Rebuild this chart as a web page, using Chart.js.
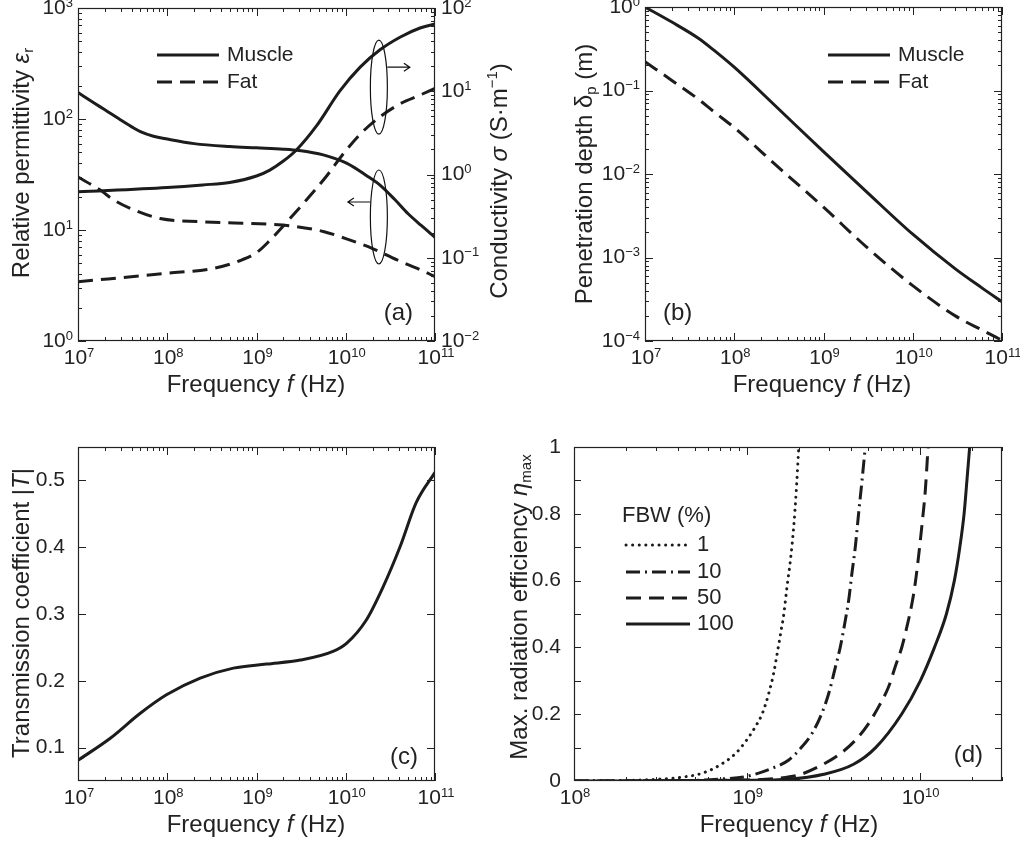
<!DOCTYPE html>
<html>
<head>
<meta charset="utf-8">
<script src="https://cdn.jsdelivr.net/npm/chart.js@4.4.1/dist/chart.umd.min.js"></script>
<style>
  body { margin: 0; background: #fff; }
  #wrap { position: relative; width: 1020px; height: 847px; }
  #wrap canvas { position: absolute; left: 0; top: 0; }
</style>
</head>
<body>
<div id="wrap">
  <canvas id="chartA" width="1020" height="847"></canvas>
  <canvas id="chartB" width="1020" height="847"></canvas>
  <canvas id="chartC" width="1020" height="847"></canvas>
  <canvas id="chartD" width="1020" height="847"></canvas>
</div>
<script>
// ---- (a) relative permittivity / conductivity ----
const muscleEpsF = [1e7, 1.5e7, 2e7, 3e7, 4e7, 5e7, 7e7, 1e8, 2e8, 5e8, 1.0e9, 2.0e9, 3.0e9, 5.6e9, 1.02e10, 1.7e10, 2.4e10, 3.5e10, 5.0e10, 7.0e10, 1e11];
const muscleEps  = [173, 140, 121, 98, 85, 77, 70, 66, 60, 56.5, 55, 53.5, 52, 47.5, 40, 31, 25.5, 19, 14, 11, 8.6];
const muscleSigF = [1e7, 1e8, 2.5e8, 5e8, 1.0e9, 1.41e9, 2.0e9, 2.8e9, 4.7e9, 8.6e9, 1.45e10, 2.4e10, 4.1e10, 6.8e10, 1e11];
const muscleSig  = [0.62, 0.70, 0.75, 0.80, 0.96, 1.13, 1.45, 1.97, 3.83, 10.1, 19.5, 31.3, 44.9, 57.5, 64.3];
const fatEpsF = [1e7, 1.76e7, 2.5e7, 4.2e7, 8.3e7, 2.34e8, 1.3e9, 2.4e9, 5.6e9, 1.12e10, 2.0e10, 3.7e10, 6.8e10, 1e11];
const fatEps  = [30, 23, 18.7, 15.2, 12.7, 11.9, 11.3, 10.9, 9.7, 8.1, 6.8, 5.4, 4.4, 3.8];
const fatSigF = [1e7, 9.8e7, 3.3e8, 6.5e8, 1.0e9, 1.4e9, 2.4e9, 3.6e9, 6.2e9, 9.3e9, 1.45e10, 2.4e10, 4.1e10, 6.8e10, 1e11];
const fatSig  = [0.0515, 0.065, 0.0746, 0.092, 0.115, 0.160, 0.30, 0.49, 0.98, 1.75, 3.05, 4.9, 7.1, 9.0, 10.8];

// ---- (b) penetration depth (m) ----
const depthF      = [1e7, 2e7, 4e7, 6e7, 1e8, 3e8, 1e9, 3e9, 1e10, 3e10, 6e10, 1e11];
const muscleDepth = [1.0, 0.66, 0.42, 0.30, 0.19, 0.063, 0.0185, 0.0062, 0.0019, 7.3e-4, 4.3e-4, 2.95e-4];
const fatDepth    = [0.221, 0.132, 0.078, 0.055, 0.036, 0.0125, 0.0040, 0.00135, 4.6e-4, 2.0e-4, 1.35e-4, 1.02e-4];

// ---- (c) transmission coefficient ----
const transF = [1e7, 2.3e7, 4.95e7, 9.8e7, 2.34e8, 5.5e8, 1.29e9, 3.1e9, 7.2e9, 1.02e10, 1.7e10, 2.63e10, 4.07e10, 6.17e10, 1e11];
const transT = [0.081, 0.114, 0.151, 0.179, 0.204, 0.219, 0.225, 0.231, 0.244, 0.256, 0.291, 0.341, 0.401, 0.467, 0.512];

// ---- (d) max. radiation efficiency, FBW (%) ----
const fbwLabels = ['1', '10', '50', '100'];
const eff1F   = [1e8, 2e8, 3.2e8, 4e8, 5.5e8, 7.0e8, 8.6e8, 1.0e9, 1.12e9, 1.23e9, 1.34e9, 1.43e9, 1.50e9, 1.57e9, 1.64e9, 1.71e9, 1.79e9, 1.87e9, 1.93e9, 2.0e9];
const eff1    = [0, 0.002, 0.006, 0.01, 0.023, 0.048, 0.082, 0.123, 0.162, 0.202, 0.262, 0.322, 0.382, 0.442, 0.502, 0.582, 0.662, 0.762, 0.862, 1.0];
const eff10F  = [1e8, 5e8, 7e8, 9.8e8, 1.4e9, 1.75e9, 2.09e9, 2.39e9, 2.72e9, 2.98e9, 3.26e9, 3.48e9, 3.72e9, 3.89e9, 4.06e9, 4.25e9, 4.44e9, 4.65e9, 4.85e9];
const eff10   = [0, 0.002, 0.006, 0.013, 0.038, 0.063, 0.103, 0.143, 0.203, 0.262, 0.342, 0.402, 0.482, 0.542, 0.622, 0.702, 0.802, 0.902, 1.0];
const eff50F  = [1e8, 1e9, 1.5e9, 2.0e9, 2.72e9, 3.4e9, 4.25e9, 5.07e9, 5.79e9, 6.62e9, 7.23e9, 7.91e9, 8.45e9, 9.04e9, 9.44e9, 9.86e9, 1.03e10, 1.08e10, 1.12e10];
const eff50   = [0, 0.003, 0.008, 0.018, 0.048, 0.078, 0.122, 0.172, 0.222, 0.282, 0.342, 0.402, 0.462, 0.532, 0.592, 0.671, 0.761, 0.871, 1.0];
const eff100F = [1e8, 1e9, 1.74e9, 2.79e9, 4.15e9, 5.57e9, 7.87e9, 1.01e10, 1.22e10, 1.43e10, 1.59e10, 1.71e10, 1.81e10, 1.88e10, 1.95e10];
const eff100  = [0, 0.002, 0.005, 0.02, 0.05, 0.1, 0.2, 0.3, 0.4, 0.5, 0.6, 0.7, 0.8, 0.9, 1.0];

const decadesA = [1e7, 1e8, 1e9, 1e10, 1e11];
const epsTicks = [1, 10, 100, 1000];
const sigTicks = [0.01, 0.1, 1, 10, 100];
const depthTicks = [1e-4, 1e-3, 1e-2, 1e-1, 1];
const transTicks = [0.1, 0.2, 0.3, 0.4, 0.5];
const decadesD = [1e8, 1e9, 1e10];
const effTicks = [0, 0.2, 0.4, 0.6, 0.8, 1];

const INK = '#222';
const LINE = '#1c1c1c';
const FONT = "'Liberation Sans', Arial, Helvetica, sans-serif";
Chart.defaults.font.family = FONT;
Chart.defaults.font.size = 21;
Chart.defaults.color = INK;
Chart.defaults.animation = false;
Chart.defaults.events = [];
Chart.defaults.plugins.legend.display = false;
Chart.defaults.plugins.tooltip.enabled = false;

const SOLID = [], DASH = [15, 8], DOT = [0.1, 6.5], DASHDOT = [14, 5, 2, 5];

const pts = (xs, ys) => xs.map((x, i) => ({ x: x, y: ys[i] }));
function line(data, dash, axis) {
  return {
    data: data, yAxisID: axis || 'y', borderColor: LINE, borderWidth: 3, borderDash: dash,
    borderCapStyle: dash === DOT ? 'round' : 'butt', pointRadius: 0, fill: false,
    cubicInterpolationMode: 'monotone'
  };
}

// plot boxes (page pixels)
const boxA = { left: 78, top: 8, right: 435, bottom: 341 };
const boxB = { left: 645, top: 7, right: 1002, bottom: 341 };
const boxC = { left: 78, top: 447, right: 435, bottom: 781 };
const boxD = { left: 574, top: 447, right: 1002, bottom: 781 };

// log axes: labels are drawn as 10 + raised exponent by the decor plugin
function xAxis(box, min, max, majors) {
  return {
    type: 'logarithmic', min: min, max: max,
    afterBuildTicks: s => { s.ticks = majors.map(v => ({ value: v })); },
    ticks: { display: false },
    grid: { display: false }, border: { display: false },
    afterFit: s => { s.height = 847 - box.bottom; s.paddingLeft = 0; s.paddingRight = 0; }
  };
}
function yAxis(type, pos, width, min, max, majors, fmt) {
  return {
    type: type, position: pos, min: min, max: max,
    afterBuildTicks: s => { s.ticks = majors.map(v => ({ value: v })); },
    ticks: fmt ? { callback: fmt, autoSkip: false, padding: 5 } : { display: false },
    grid: { display: false }, border: { display: false },
    afterFit: s => { s.width = width; s.paddingTop = 0; s.paddingBottom = 0; }
  };
}

function logMarks(min, max) {
  const out = [];
  for (let e = Math.floor(Math.log10(min)); e <= Math.ceil(Math.log10(max)); e++) {
    for (let k = 1; k < 10; k++) {
      const v = k * Math.pow(10, e);
      if (v >= min * 0.999 && v <= max * 1.001) out.push([v, k === 1 ? 8 : 4]);
    }
  }
  return out;
}

// rich text: parts = [[text, kind]], kind n | i | sub | sup
function rich(ctx, parts, x, y, size, rot, align, small, lift) {
  const sm = small || 0.62, up = lift || 0.3;
  const fontOf = k => (k === 'i' ? 'italic ' : '') + ((k === 'sub' || k === 'sup') ? Math.round(size * sm) : size) + 'px ' + FONT;
  ctx.save();
  ctx.translate(x, y);
  if (rot) ctx.rotate(rot);
  let total = 0;
  const widths = parts.map(p => { ctx.font = fontOf(p[1]); const w = ctx.measureText(p[0]).width; total += w; return w; });
  let cx = align === 'right' ? -total : align === 'left' ? 0 : -total / 2;
  ctx.textBaseline = 'middle';
  ctx.textAlign = 'left';
  ctx.fillStyle = INK;
  parts.forEach((p, i) => {
    ctx.font = fontOf(p[1]);
    const dy = p[1] === 'sub' ? size * 0.3 : p[1] === 'sup' ? -size * up : 0;
    ctx.fillText(p[0], cx, dy);
    cx += widths[i];
  });
  ctx.restore();
}
const powParts = v => [['10', 'n'], [String(Math.round(Math.log10(v))).replace('-', '−'), 'sup']];

// frame, inward tick marks, power-of-ten labels, titles, legend, panel letter
function decor(cfg) {
  return {
    id: 'decor',
    afterDatasetsDraw(chart) {
      const ctx = chart.ctx, a = chart.chartArea;
      ctx.save();
      ctx.strokeStyle = INK;
      ctx.lineWidth = 1;
      cfg.marks.forEach(m => {
        const s = chart.scales[m.id];
        m.values.forEach(([v, len]) => {
          const p = Math.round(s.getPixelForValue(v)) + 0.5;
          ctx.beginPath();
          m.sides.forEach(side => {
            if (side === 'bottom') { ctx.moveTo(p, a.bottom); ctx.lineTo(p, a.bottom - len); }
            if (side === 'top') { ctx.moveTo(p, a.top); ctx.lineTo(p, a.top + len); }
            if (side === 'left') { ctx.moveTo(a.left, p); ctx.lineTo(a.left + len, p); }
            if (side === 'right') { ctx.moveTo(a.right, p); ctx.lineTo(a.right - len, p); }
          });
          ctx.stroke();
        });
      });
      ctx.lineWidth = 1.2;
      ctx.strokeRect(a.left + 0.5, a.top + 0.5, a.right - a.left - 1, a.bottom - a.top - 1);

      (cfg.powLabels || []).forEach(id => {
        const s = chart.scales[id];
        s.ticks.forEach(t => {
          const p = s.getPixelForValue(t.value);
          const parts = powParts(t.value);
          if (s.isHorizontal()) rich(ctx, parts, p + 1, a.bottom + 17, 21, 0, 'center', 0.62, 0.23);
          else if (s.position === 'left') rich(ctx, parts, a.left - 5, p, 21, 0, 'right', 0.62, 0.23);
          else rich(ctx, parts, a.right + 6, p, 21, 0, 'left', 0.62, 0.23);
        });
      });

      cfg.titles.forEach(t => rich(ctx, t.parts, t.x, t.y, 24, t.rot ? -Math.PI / 2 : 0));

      if (cfg.legend) {
        const L = cfg.legend;
        ctx.font = L.size + 'px ' + FONT;
        ctx.textBaseline = 'middle';
        ctx.textAlign = 'left';
        ctx.fillStyle = INK;
        if (L.head) ctx.fillText(L.head, a.left + L.headX, a.top + L.headY);
        L.items.forEach((it, i) => {
          const ds = chart.data.datasets[it.ds];
          const y = a.top + L.ys[i];
          ctx.save();
          ctx.strokeStyle = LINE;
          ctx.lineWidth = 3;
          ctx.lineCap = ds.borderCapStyle;
          ctx.setLineDash(ds.borderDash);
          ctx.beginPath();
          ctx.moveTo(a.left + L.x0, y);
          ctx.lineTo(a.left + L.x1, y);
          ctx.stroke();
          ctx.restore();
          ctx.fillText(it.text, a.left + L.tx, y);
        });
      }

      ctx.font = '24px ' + FONT;
      ctx.textBaseline = 'middle';
      ctx.fillStyle = INK;
      ctx.textAlign = cfg.tag.align;
      ctx.fillText(cfg.tag.text, cfg.tag.align === 'right' ? a.right - cfg.tag.dx : a.left + cfg.tag.dx, a.bottom - cfg.tag.dy);

      if (cfg.extra) cfg.extra(chart, ctx);
      ctx.restore();
    }
  };
}

const freqTitle = (x, y) => ({ parts: [['Frequency ', 'n'], ['f', 'i'], [' (Hz)', 'n']], x: x, y: y });

function arrow(ctx, x0, y, x1) {
  const d = x1 > x0 ? -6 : 6;
  ctx.beginPath();
  ctx.moveTo(x0, y); ctx.lineTo(x1, y);
  ctx.moveTo(x1 + d, y - 4); ctx.lineTo(x1, y); ctx.lineTo(x1 + d, y + 4);
  ctx.stroke();
}

// ---------- (a) ----------
new Chart(document.getElementById('chartA'), {
  type: 'line',
  data: {
    datasets: [
      line(pts(muscleEpsF, muscleEps), SOLID, 'y'),
      line(pts(fatEpsF, fatEps), DASH, 'y'),
      line(pts(muscleSigF, muscleSig), SOLID, 'y2'),
      line(pts(fatSigF, fatSig), DASH, 'y2')
    ]
  },
  options: {
    responsive: false,
    layout: { padding: { left: 0, top: boxA.top, right: 1020 - boxA.right - 60, bottom: 0 } },
    scales: {
      x: xAxis(boxA, 1e7, 1e11, decadesA),
      y: yAxis('logarithmic', 'left', boxA.left, 1, 1000, epsTicks),
      y2: yAxis('logarithmic', 'right', 60, 0.01, 100, sigTicks)
    }
  },
  plugins: [decor({
    marks: [
      { id: 'x', values: logMarks(1e7, 1e11), sides: ['bottom', 'top'] },
      { id: 'y', values: logMarks(1, 1000), sides: ['left'] },
      { id: 'y2', values: logMarks(0.01, 100), sides: ['right'] }
    ],
    powLabels: ['x', 'y', 'y2'],
    titles: [
      { parts: [['Relative permittivity ', 'n'], ['ε', 'i'], ['r', 'sub']], x: 22, y: 163, rot: true },
      { parts: [['Conductivity ', 'n'], ['σ', 'i'], [' (S·m', 'n'], ['−1', 'sup'], [')', 'n']], x: 500, y: 181, rot: true },
      freqTitle(256, 385)
    ],
    legend: { size: 21, x0: 79, x1: 141, tx: 149, ys: [47, 74], items: [{ ds: 0, text: 'Muscle' }, { ds: 1, text: 'Fat' }] },
    tag: { text: '(a)', align: 'right', dx: 22, dy: 28 },
    extra: (chart, ctx) => {
      const xs = chart.scales.x, y1 = chart.scales.y, y2 = chart.scales.y2;
      const cx = xs.getPixelForValue(2.35e10);
      const cyU = y2.getPixelForValue(11.2), cyL = y1.getPixelForValue(13.1);
      ctx.strokeStyle = '#111';
      ctx.lineWidth = 1.2;
      ctx.beginPath(); ctx.ellipse(cx, cyU, 8.5, 47, 0, 0, Math.PI * 2); ctx.stroke();
      ctx.beginPath(); ctx.ellipse(cx, cyL, 8.5, 47, 0, 0, Math.PI * 2); ctx.stroke();
      arrow(ctx, cx + 8.5, cyU - 20, cx + 31);
      arrow(ctx, cx - 8.5, cyL - 15, cx - 31);
    }
  })]
});

// ---------- (b) ----------
new Chart(document.getElementById('chartB'), {
  type: 'line',
  data: {
    datasets: [
      line(pts(depthF, muscleDepth), SOLID),
      line(pts(depthF, fatDepth), DASH)
    ]
  },
  options: {
    responsive: false,
    layout: { padding: { left: 0, top: boxB.top, right: 1020 - boxB.right, bottom: 0 } },
    scales: {
      x: xAxis(boxB, 1e7, 1e11, decadesA),
      y: yAxis('logarithmic', 'left', boxB.left, 1e-4, 1, depthTicks)
    }
  },
  plugins: [decor({
    marks: [
      { id: 'x', values: logMarks(1e7, 1e11), sides: ['bottom', 'top'] },
      { id: 'y', values: logMarks(1e-4, 1), sides: ['left', 'right'] }
    ],
    powLabels: ['x', 'y'],
    titles: [
      { parts: [['Penetration depth δ', 'n'], ['p', 'sub'], [' (m)', 'n']], x: 585, y: 174, rot: true },
      freqTitle(822, 385)
    ],
    legend: { size: 21, x0: 183, x1: 245, tx: 253, ys: [48, 75], items: [{ ds: 0, text: 'Muscle' }, { ds: 1, text: 'Fat' }] },
    tag: { text: '(b)', align: 'left', dx: 18, dy: 28 }
  })]
});

// ---------- (c) ----------
new Chart(document.getElementById('chartC'), {
  type: 'line',
  data: { datasets: [line(pts(transF, transT), SOLID)] },
  options: {
    responsive: false,
    layout: { padding: { left: 0, top: boxC.top, right: 1020 - boxC.right, bottom: 0 } },
    scales: {
      x: xAxis(boxC, 1e7, 1e11, decadesA),
      y: yAxis('linear', 'left', boxC.left, 0.05, 0.55, transTicks, v => v.toFixed(1))
    }
  },
  plugins: [decor({
    marks: [
      { id: 'x', values: logMarks(1e7, 1e11), sides: ['bottom', 'top'] },
      { id: 'y', values: transTicks.map(v => [v, 8]), sides: ['left', 'right'] }
    ],
    powLabels: ['x'],
    titles: [
      { parts: [['Transmission coefficient |', 'n'], ['T', 'i'], ['|', 'n']], x: 22, y: 613, rot: true },
      freqTitle(256, 825)
    ],
    tag: { text: '(c)', align: 'right', dx: 17, dy: 24 }
  })]
});

// ---------- (d) ----------
new Chart(document.getElementById('chartD'), {
  type: 'line',
  data: {
    datasets: [
      line(pts(eff1F, eff1), DOT),
      line(pts(eff10F, eff10), DASHDOT),
      line(pts(eff50F, eff50), DASH),
      line(pts(eff100F, eff100), SOLID)
    ]
  },
  options: {
    responsive: false,
    layout: { padding: { left: 0, top: boxD.top, right: 1020 - boxD.right, bottom: 0 } },
    scales: {
      x: xAxis(boxD, 1e8, 3e10, decadesD),
      y: yAxis('linear', 'left', boxD.left, 0, 1, effTicks, v => (v === 0 || v === 1) ? String(v) : v.toFixed(1))
    }
  },
  plugins: [decor({
    marks: [
      { id: 'x', values: logMarks(1e8, 3e10), sides: ['bottom', 'top'] },
      { id: 'y', values: [0.1, 0.2, 0.3, 0.4, 0.5, 0.6, 0.7, 0.8, 0.9].map(v => [v, 7]), sides: ['left', 'right'] }
    ],
    powLabels: ['x'],
    titles: [
      { parts: [['Max. radiation efficiency ', 'n'], ['η', 'i'], ['max', 'sub']], x: 520, y: 607, rot: true },
      freqTitle(789, 825)
    ],
    legend: {
      size: 22, head: 'FBW (%)', headX: 48, headY: 69, x0: 52, x1: 116, tx: 123, ys: [98, 125, 151, 177],
      items: fbwLabels.map((t, i) => ({ ds: i, text: t }))
    },
    tag: { text: '(d)', align: 'right', dx: 19, dy: 26 }
  })]
});
</script>
</body>
</html>
